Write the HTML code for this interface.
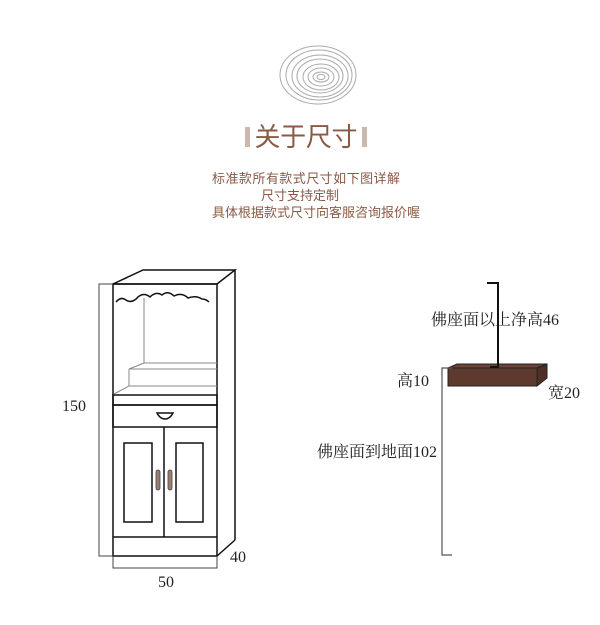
<!DOCTYPE html>
<html><head><meta charset="utf-8"><style>
body{margin:0;background:#fff;}
svg{display:block;}
.t{font-family:"Liberation Sans","Noto Sans CJK SC",sans-serif;fill:#8a5a46;}
.s{font-family:"Liberation Serif","Noto Serif CJK SC",serif;fill:#222;}
</style></head><body>
<svg width="600" height="625" viewBox="0 0 600 625" xmlns="http://www.w3.org/2000/svg">
<g fill="none" stroke="#aaa" stroke-width="1">
<ellipse cx="318" cy="75" rx="38" ry="29"/>
<ellipse cx="319" cy="75" rx="33" ry="25"/>
<ellipse cx="320" cy="76" rx="28" ry="21"/>
<ellipse cx="320" cy="76" rx="23" ry="17"/>
<ellipse cx="321" cy="77" rx="18" ry="13"/>
<ellipse cx="321" cy="77" rx="13" ry="9"/>
<ellipse cx="321" cy="77" rx="8" ry="5"/>
<ellipse cx="321" cy="77" rx="4" ry="2.5"/>
</g>
<rect x="245" y="127" width="5" height="20" fill="#cdb8ae"/>
<rect x="362" y="127" width="5" height="20" fill="#cdb8ae"/>
<text class="t" x="306" y="146" font-size="26" text-anchor="middle" textLength="103">关于尺寸</text>
<text class="t" x="306" y="183" font-size="13" text-anchor="middle" textLength="188">标准款所有款式尺寸如下图详解</text>
<text class="t" x="300" y="200" font-size="13" text-anchor="middle">尺寸支持定制</text>
<text class="t" x="316" y="217" font-size="13" text-anchor="middle" textLength="208">具体根据款式尺寸向客服咨询报价喔</text>

<g fill="none" stroke="#111" stroke-width="1.5">
<polygon points="113,284 143,270 235,270 217,284"/>
<line x1="235" y1="270" x2="235" y2="540"/>
<line x1="235" y1="540" x2="217" y2="556"/>
<rect x="113" y="284" width="104" height="272"/>
<path d="M116,302 q5,-6 10,-2 q6,4 12,-3 q6,-5 12,0 q6,-6 12,-2 q6,-5 12,1 q8,-4 14,2 q8,-3 14,1 q4,0 7,3"/>
<rect x="113" y="395" width="104" height="10"/>
<rect x="113" y="405" width="104" height="22"/>
<line x1="113" y1="537" x2="217" y2="537"/>
<line x1="164" y1="427" x2="164" y2="537"/>
<rect x="124" y="443" width="28" height="79"/>
<rect x="176" y="443" width="27" height="79"/>
<path d="M157,413 h16 q-3,6 -8,6 q-5,0 -8,-6z"/>
</g>
<g fill="none" stroke="#888" stroke-width="1">
<line x1="144" y1="298" x2="144" y2="363"/>
<line x1="144" y1="363" x2="217" y2="363"/>
<line x1="144" y1="363" x2="129" y2="369"/>
<line x1="129" y1="369" x2="217" y2="369"/>
<line x1="129" y1="369" x2="129" y2="386"/>
<line x1="129" y1="386" x2="217" y2="386"/>
<line x1="129" y1="386" x2="114" y2="394"/>
</g>
<rect x="156" y="470" width="4" height="20" rx="2" fill="#9a7f72" stroke="#444" stroke-width="0.8"/>
<rect x="168" y="470" width="4" height="20" rx="2" fill="#9a7f72" stroke="#444" stroke-width="0.8"/>
<g fill="none" stroke="#444" stroke-width="1">
<polyline points="113,284 99,284 99,556 113,556"/>
<polyline points="113,556 113,568 217,568 217,556"/>
</g>
<text class="s" x="62" y="411" font-size="16">150</text>
<text class="s" x="166" y="587" font-size="16" text-anchor="middle">50</text>
<text class="s" x="230" y="562" font-size="16">40</text>

<polygon points="448,368 457,364 547,364 537,368" fill="#6b4436" stroke="#222" stroke-width="1"/>
<polygon points="537,368 547,364 547,378 537,386" fill="#4e2f25" stroke="#222" stroke-width="1"/>
<rect x="448" y="368" width="89" height="18" fill="#5e3a2e" stroke="#222" stroke-width="1"/>
<polyline points="487,283 498,283 498,367 490,367" fill="none" stroke="#111" stroke-width="2"/>
<polyline points="452,368 442,368 442,555 452,555" fill="none" stroke="#555" stroke-width="1.2"/>
<text class="s" x="495" y="325" font-size="16" text-anchor="middle">佛座面以上净高46</text>
<text class="s" x="397" y="386" font-size="16">高10</text>
<text class="s" x="548" y="398" font-size="16">宽20</text>
<text class="s" x="437" y="457" font-size="16" text-anchor="end">佛座面到地面102</text>
</svg>
</body></html>
